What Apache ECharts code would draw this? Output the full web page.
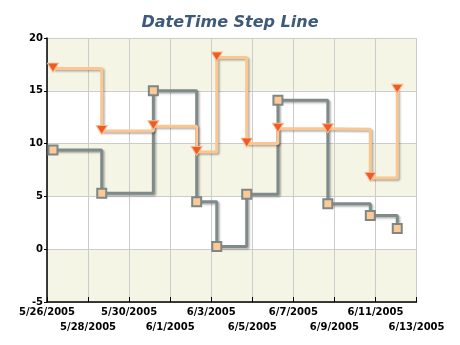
<!DOCTYPE html>
<html>
<head>
<meta charset="utf-8">
<script src="https://cdn.jsdelivr.net/npm/echarts@6/dist/echarts.min.js"></script>
<style>html,body{margin:0;padding:0;background:#fff}#c{width:460px;height:345px}</style>
</head>
<body>
<div id="c"></div>
<script>
// ---- data ----
var startDate = '2005-05-26T00:00';
var endDate = '2005-06-13T00:00';
var dates = ['2005-05-26T07:00', '2005-05-28T16:00', '2005-05-31T04:20', '2005-06-02T07:00', '2005-06-03T06:30',
             '2005-06-04T17:30', '2005-06-06T06:00', '2005-06-08T16:20', '2005-06-10T18:00', '2005-06-12T01:30'];
var graySeries = [9.4, 5.3, 15.0, 4.5, 0.25, 5.2, 14.1, 4.3, 3.2, 1.95];
var orangeSeries = [17.1, 11.2, 11.65, 9.2, 18.15, 10.0, 11.4, 11.35, 6.75, 15.1];
var yTicks = [-5, 0, 5, 10, 15, 20];

var DAY = 86400000;
function toMs(s){ var p = s.split(/[-T:]/).map(Number); return Date.UTC(p[0], p[1]-1, p[2], p[3]||0, p[4]||0); }
var t0 = toMs(startDate);
function dayOffset(s){ return (toMs(s) - t0) / DAY; }
function fmt(d){ var dt = new Date(t0 + d * DAY); return (dt.getUTCMonth()+1) + '/' + dt.getUTCDate() + '/' + dt.getUTCFullYear(); }

var chart = echarts.init(document.getElementById('c'), null, {renderer:'canvas'});
var font = 'DejaVu Sans';
function xAxisDef(row){
  return {
    type: 'value', min: 0, max: dayOffset(endDate), interval: 2, position: 'bottom',
    axisLine: { show: row === 0, onZero: false, lineStyle: { color: '#000', width: 1.5 } },
    axisTick: { show: row === 0, inside: true, length: 5, lineStyle: { color: '#000' } },
    splitLine: { show: row === 0, lineStyle: { color: '#cccccc', width: 1 } },
    axisLabel: {
      fontFamily: font, fontSize: 10, fontWeight: 'bold', color: '#000', margin: row === 0 ? 5 : 20,
      showMinLabel: true, showMaxLabel: true, hideOverlap: false,
      formatter: function(v){ var idx = Math.round(v / 2); return (idx % 2 === row) ? fmt(v) : ''; }
    }
  };
}
chart.setOption({
  animation: false,
  title: {
    text: 'DateTime Step Line', left: 'center', top: 10,
    textStyle: { fontFamily: font, fontSize: 16, fontWeight: 'bold', fontStyle: 'italic', color: '#3d5a78' }
  },
  grid: { left: 47, right: 43.5, top: 38, bottom: 43 },
  xAxis: [xAxisDef(0), xAxisDef(1)],
  yAxis: {
    type: 'value', min: yTicks[0], max: yTicks[yTicks.length-1], interval: yTicks[1]-yTicks[0],
    axisLine: { show: true, lineStyle: { color: '#000', width: 1.5 } },
    axisTick: { show: true, length: 3, lineStyle: { color: '#000' } },
    splitLine: { show: true, lineStyle: { color: '#cccccc', width: 1 } },
    splitArea: { show: true, areaStyle: { color: ['#f5f5e5', '#ffffff'] } },
    axisLabel: { fontFamily: font, fontSize: 10, fontWeight: 'bold', color: '#000', margin: 4 }
  },
  series: [
    {
      type: 'line', step: 'end', xAxisIndex: 0,
      data: dates.map(function(d, i){ return [dayOffset(d), graySeries[i]]; }),
      symbol: 'rect', symbolSize: 9,
      itemStyle: { color: '#fdc996', borderColor: '#7b8886', borderWidth: 2 },
      lineStyle: { color: '#7f8b89', width: 3, shadowColor: 'rgba(0,0,0,0.3)', shadowBlur: 2, shadowOffsetX: 1.5, shadowOffsetY: 1.5 },
      z: 3
    },
    {
      type: 'line', step: 'end', xAxisIndex: 0,
      data: dates.map(function(d, i){ return [dayOffset(d), orangeSeries[i]]; }),
      symbol: 'triangle', symbolSize: [11, 9], symbolRotate: 180, symbolOffset: [0, -1],
      itemStyle: { color: '#f05a24', borderColor: '#fbb98a', borderWidth: 1 },
      lineStyle: { color: '#fcc690', width: 3, shadowColor: 'rgba(0,0,0,0.3)', shadowBlur: 2, shadowOffsetX: 1.5, shadowOffsetY: 1.5 },
      z: 4
    }
  ]
});
</script>
</body>
</html>
